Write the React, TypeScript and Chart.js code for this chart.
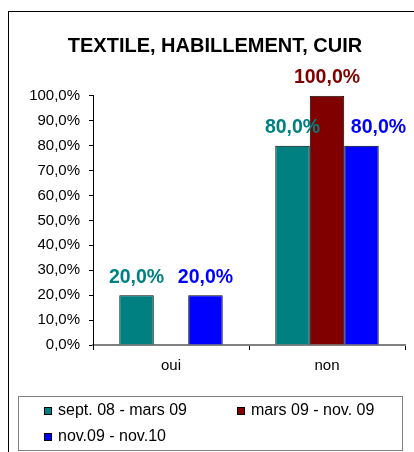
import React, { useEffect, useRef } from 'react';
import { Chart, registerables } from 'chart.js';

Chart.register(...registerables);

const chartTitle = 'TEXTILE, HABILLEMENT, CUIR';
const categories = ['oui', 'non'];
const seriesLabels = ['sept. 08 - mars 09', 'mars 09 - nov. 09', 'nov.09 - nov.10'];
const septToMars = [20, 80];
const marsToNov = [null, 100];
const novToNov = [20, 80];
const seriesColors = ['#008080', '#800000', '#0000FF'];
const yTicks = [0, 10, 20, 30, 40, 50, 60, 70, 80, 90, 100];

const FONT = '"Liberation Sans", Arial, sans-serif';
const fmt = (v: number) => v.toFixed(1).replace('.', ',') + '%';

const customPlugin = {
  id: 'custom',
  beforeDraw(chart: any) {
    const ctx = chart.ctx;
    ctx.save();
    ctx.fillStyle = '#ffffff';
    ctx.fillRect(0, 0, chart.width, chart.height);
    ctx.strokeStyle = '#000000';
    ctx.lineWidth = 1;
    ctx.strokeRect(8.5, 11.5, 600, 600);
    ctx.restore();
  },
  afterDatasetsDraw(chart: any) {
    const ctx = chart.ctx;
    ctx.save();
    ctx.font = 'bold 19.5px ' + FONT;
    ctx.textAlign = 'center';
    ctx.textBaseline = 'alphabetic';
    const n = chart.data.datasets.length;
    chart.data.datasets.forEach((ds: any, i: number) => {
      const meta = chart.getDatasetMeta(i);
      meta.data.forEach((el: any, j: number) => {
        const v = ds.data[j];
        if (v === null || v === undefined) return;
        let x = el.x;
        // last series label moved right when the bar to its left is taller
        if (i === n - 1 && i > 0) {
          const prev = chart.getDatasetMeta(i - 1).data[j];
          const pv = chart.data.datasets[i - 1].data[j];
          if (pv !== null && pv !== undefined && pv > v) {
            x = el.x + 17;
          }
        }
        ctx.fillStyle = ds.backgroundColor;
        ctx.fillText(fmt(v), x, el.y - 12.5);
      });
    });
    ctx.restore();
  },
  afterDraw(chart: any) {
    const ctx = chart.ctx;
    ctx.save();
    ctx.font = 'bold 20px ' + FONT;
    ctx.fillStyle = '#000000';
    ctx.textAlign = 'center';
    ctx.textBaseline = 'alphabetic';
    ctx.fillText(chartTitle, 215, 51.5);
    ctx.strokeStyle = '#808080';
    ctx.lineWidth = 1;
    ctx.strokeRect(18.5, 396.5, 384, 54);
    const pos = [
      { x: 44, y: 415 },
      { x: 237, y: 415 },
      { x: 44, y: 441 },
    ];
    ctx.font = '16px ' + FONT;
    ctx.textAlign = 'left';
    chart.data.datasets.forEach((ds: any, i: number) => {
      const p = pos[i];
      ctx.fillStyle = ds.backgroundColor;
      ctx.fillRect(p.x, p.y - 8, 8, 8);
      ctx.strokeStyle = '#000000';
      ctx.strokeRect(p.x + 0.5, p.y - 7.5, 7, 7);
      ctx.fillStyle = '#000000';
      ctx.fillText(ds.label, p.x + 14, p.y);
    });
    ctx.restore();
  },
};

export default function App() {
  const ref = useRef<HTMLCanvasElement>(null);
  useEffect(() => {
    if (!ref.current) return;
    const seriesData = [septToMars, marsToNov, novToNov];
    const chart = new Chart(ref.current, {
      type: 'bar',
      data: {
        labels: categories,
        datasets: seriesLabels.map((label, i) => ({
          label,
          data: seriesData[i],
          backgroundColor: seriesColors[i],
          borderColor: '#000000',
          borderWidth: 1,
          barPercentage: 1,
          categoryPercentage: 0.663,
        })),
      },
      options: {
        responsive: false,
        animation: false,
        devicePixelRatio: 1,
        layout: { padding: { top: 95.8, left: 0, right: 9, bottom: 67 } },
        plugins: {
          legend: { display: false },
          title: { display: false },
          tooltip: { enabled: false },
        },
        scales: {
          x: {
            afterFit: (s: any) => { s.height = 40; },
            grid: {
              display: true,
              drawOnChartArea: false,
              drawTicks: true,
              tickLength: 5,
              tickColor: '#000000',
              offset: true,
            },
            border: { display: true, color: '#808080', width: 2 },
            ticks: {
              color: '#000000',
              font: { family: FONT, size: 15 },
              padding: 7,
            },
          },
          y: {
            min: 0,
            max: 100,
            afterFit: (s: any) => { s.width = 93; },
            afterBuildTicks: (s: any) => { s.ticks = yTicks.map((v) => ({ value: v })); },
            grid: {
              display: true,
              drawOnChartArea: false,
              drawTicks: true,
              tickLength: 4,
              tickColor: '#000000',
            },
            border: { display: true, color: '#000000', width: 1 },
            ticks: {
              color: '#000000',
              font: { family: FONT, size: 15 },
              padding: 9,
              callback: (v: any) => fmt(Number(v)),
            },
          },
        },
      },
      plugins: [customPlugin],
    });
    return () => chart.destroy();
  }, []);
  return (
    <div style={{ position: 'absolute', left: 0, top: 0, width: 414, height: 452 }}>
      <canvas ref={ref} width={414} height={452} style={{ display: 'block' }} />
    </div>
  );
}
